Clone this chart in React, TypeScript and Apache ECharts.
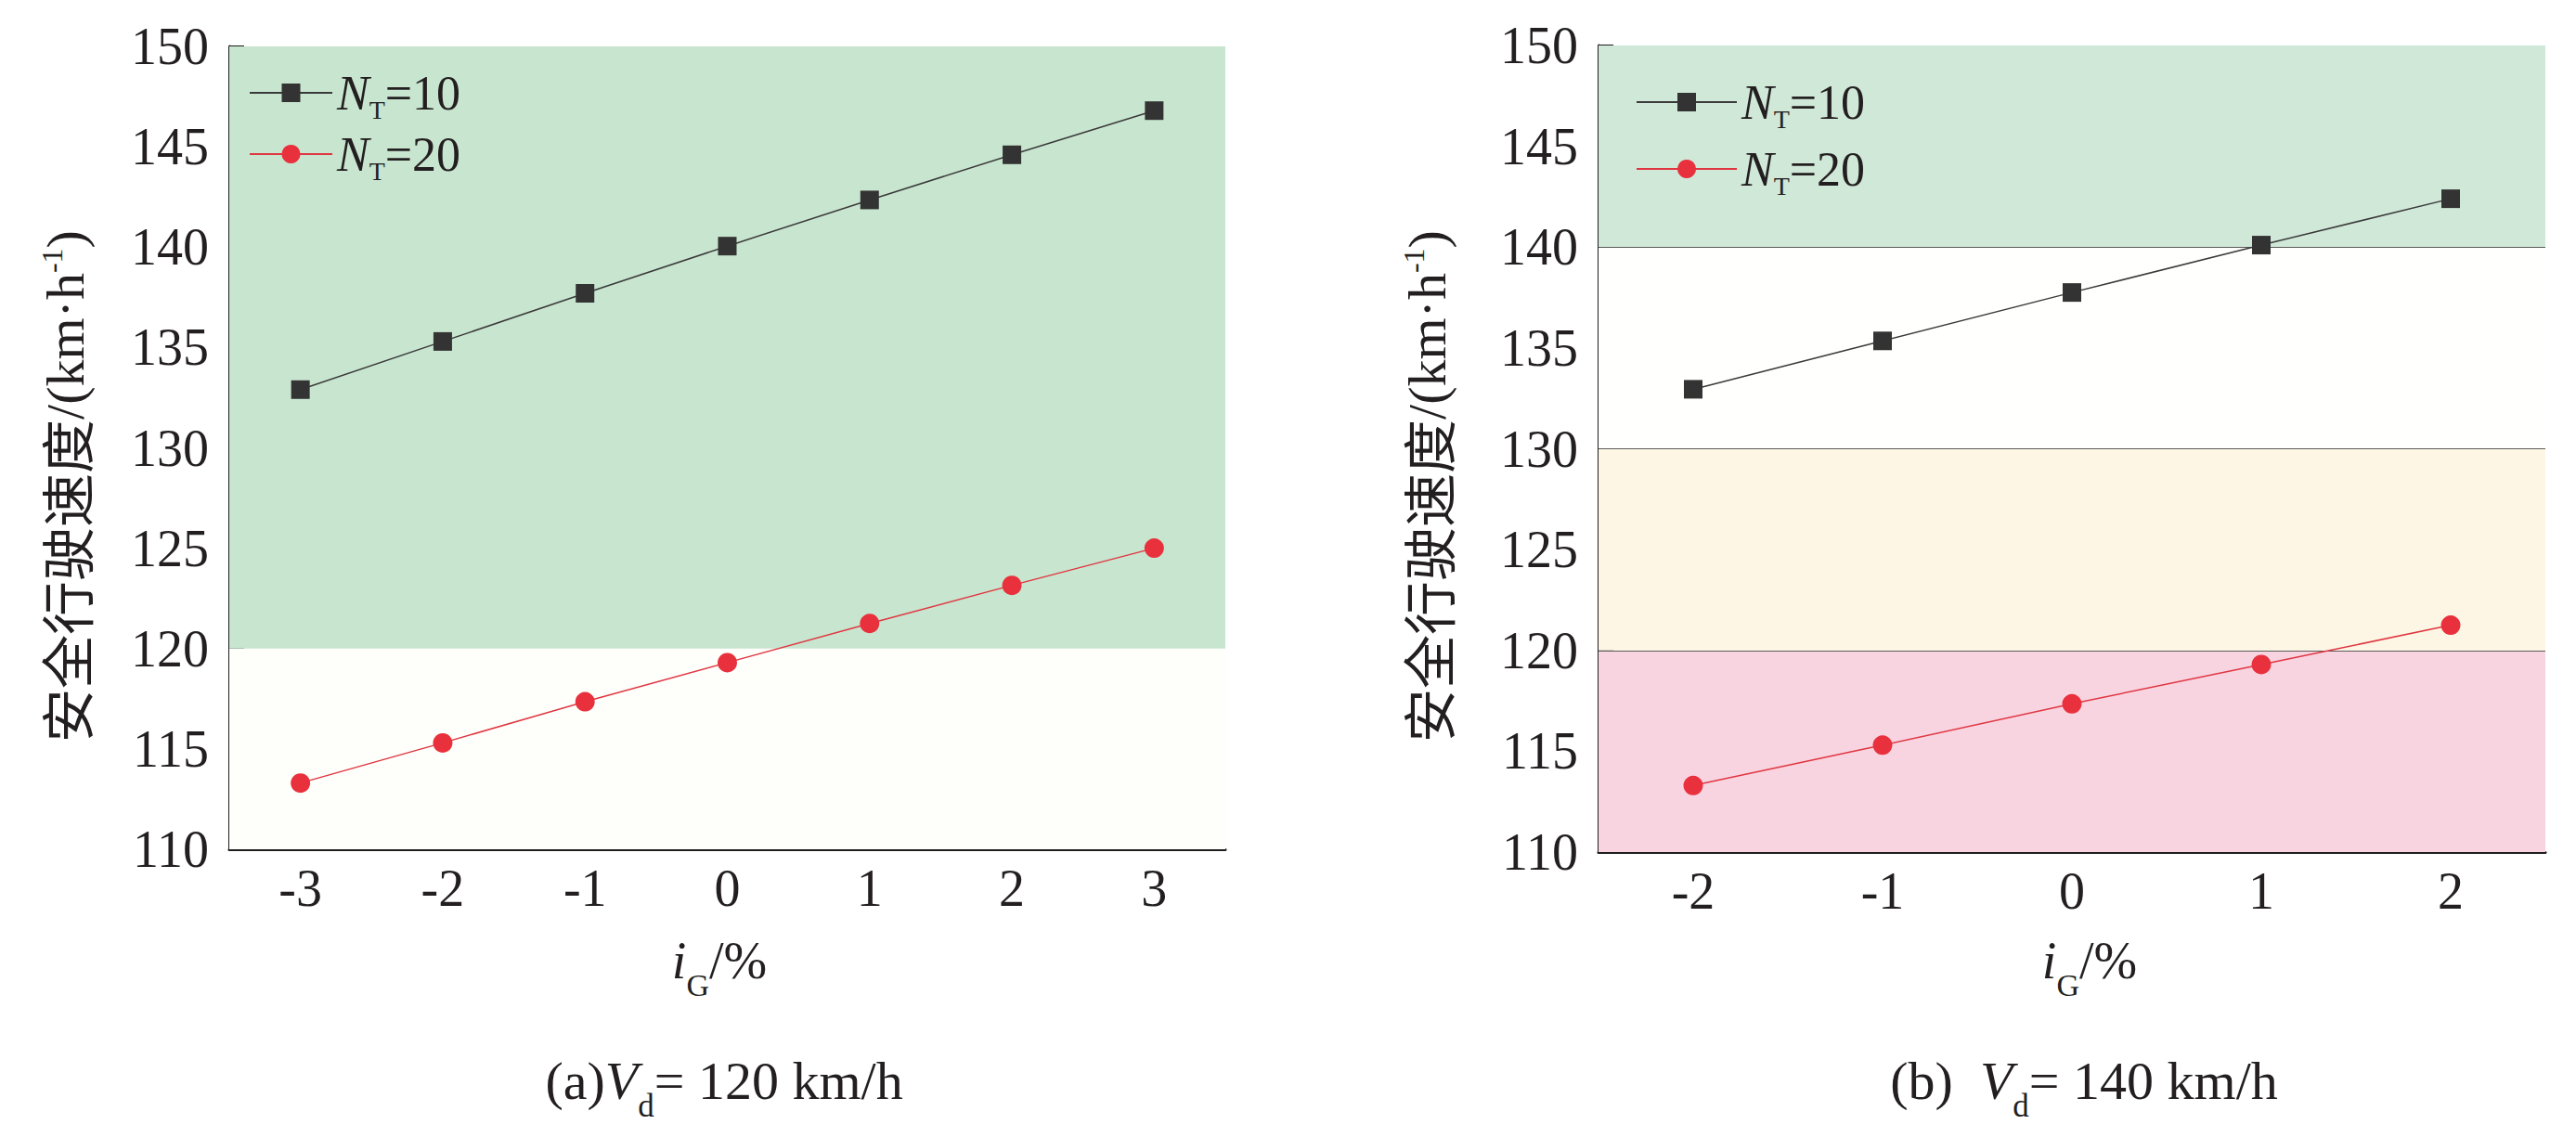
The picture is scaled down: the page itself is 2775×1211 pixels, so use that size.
import React, { useEffect, useRef } from "react";
import * as echarts from "echarts";

// ---------- data ----------
const X_A = ["-3", "-2", "-1", "0", "1", "2", "3"];
const A_NT10 = [132.9, 135.3, 137.7, 140.05, 142.35, 144.6, 146.8];
const A_NT20 = [113.3, 115.3, 117.35, 119.3, 121.25, 123.15, 125.0];

const X_B = ["-2", "-1", "0", "1", "2"];
const B_NT10 = [132.95, 135.35, 137.75, 140.1, 142.4];
const B_NT20 = [113.3, 115.3, 117.35, 119.3, 121.25];

const Y_MIN = 110;
const Y_MAX = 150;
const Y_STEP = 5;

const A_BAND_EDGES = [110, 120, 150];
const B_BAND_EDGES = [110, 120, 130, 140, 150];
const B_LINES = [140, 130, 120];

const SERIES_NAMES = ["NT=10", "NT=20"];
const LEGEND_TEXT = ["{i|N}{sub|T}{n|=10}", "{i|N}{sub|T}{n|=20}"];
const Y_NAME = "{c|安全行驶速度}{n|/(km·h}{sup|-1}{n|)}";
const X_NAME = "{i|i}{sub|G}{n|/%}";
const CAP_A = "{n|(a)}{i|V}{sub|d}{n|= 120 km/h}";
const CAP_B = "{n|(b)  }{i|V}{sub|d}{n|= 140 km/h}";

// ---------- styles ----------
const SERIF = "'Liberation Serif', 'Times New Roman', serif";
const CJK = "'Noto Sans CJK SC', 'Noto Sans CJK JP', sans-serif";
const INK = "#231f20";
const AXIS = "#1e1e1e";
const A_BAND_COLORS = ["#fefefa", "#c8e5cf"];
const B_BAND_COLORS = ["#f8d4e1", "#fdf6e4", "#fffffd", "#d0e8d8"];

function richSet(fs: number, subFs: number, subShift: number) {
  return {
    n: { fontSize: fs, fontFamily: SERIF, lineHeight: fs, fill: INK, color: INK },
    i: { fontSize: fs, fontFamily: SERIF, fontStyle: "italic", lineHeight: fs, fill: INK, color: INK },
    c: { fontSize: fs, fontFamily: CJK, lineHeight: fs, fill: INK, color: INK },
    sub: {
      fontSize: subFs,
      fontFamily: SERIF,
      lineHeight: 2,
      padding: [Math.round(subShift * 2), 0, 0, 0],
      fill: INK,
      color: INK,
    },
    sup: {
      fontSize: Math.round(fs * 0.55),
      fontFamily: SERIF,
      lineHeight: 2,
      padding: [0, 0, Math.round(fs * 0.48), 0],
      fill: INK,
      color: INK,
    },
  };
}

function bands(edges: number[], colors: string[]) {
  const out: any[] = [];
  for (let k = 0; k < edges.length - 1; k++) {
    out.push([{ yAxis: edges[k], itemStyle: { color: colors[k] } }, { yAxis: edges[k + 1] }]);
  }
  return out;
}

function xAxisCfg(gridIndex: number, data: string[]) {
  return {
    type: "category",
    gridIndex,
    data,
    boundaryGap: true,
    axisLine: { show: true, lineStyle: { color: AXIS, width: 3 } },
    axisTick: { show: true, inside: true, alignWithLabel: true, length: 17, lineStyle: { color: AXIS, width: 3 } },
    axisLabel: { interval: 0, fontSize: 56, fontFamily: SERIF, color: INK, margin: 14 },
    splitLine: { show: false },
  };
}

function yAxisCfg(gridIndex: number) {
  return {
    type: "value",
    gridIndex,
    min: Y_MIN,
    max: Y_MAX,
    interval: Y_STEP,
    axisLine: { show: true, lineStyle: { color: AXIS, width: 3 } },
    axisTick: { show: true, inside: true, length: 16, lineStyle: { color: AXIS, width: 3 } },
    axisLabel: { fontSize: 56, fontFamily: SERIF, color: INK, margin: 22 },
    splitLine: { show: false },
  };
}

function dataSeries(idx: number, n10: number[], n20: number[]) {
  return [
    {
      type: "line",
      name: SERIES_NAMES[0],
      xAxisIndex: idx,
      yAxisIndex: idx,
      data: n10,
      symbol: "rect",
      symbolSize: 20,
      z: 5,
      lineStyle: { color: "#3a3a3a", width: 1.5 },
      itemStyle: { color: "#333333" },
    },
    {
      type: "line",
      name: SERIES_NAMES[1],
      xAxisIndex: idx,
      yAxisIndex: idx,
      data: n20,
      symbol: "circle",
      symbolSize: 21,
      z: 5,
      lineStyle: { color: "#e03641", width: 1.5 },
      itemStyle: { color: "#e8313c" },
    },
  ];
}

function legendCfg(left: number, top: number, itemWidth: number, gap: number) {
  return {
    orient: "vertical",
    left,
    top,
    padding: 0,
    itemWidth,
    itemHeight: 25,
    itemGap: gap,
    selectedMode: false,
    data: SERIES_NAMES,
    formatter: (name: string) => LEGEND_TEXT[SERIES_NAMES.indexOf(name)],
    textStyle: { color: INK, fontFamily: SERIF, fontSize: 52, rich: richSet(52, 28, 18) },
  };
}

export default function App() {
  const ref = useRef<HTMLDivElement>(null);
  useEffect(() => {
    document.body.style.margin = "0";
    const chart = echarts.init(ref.current!, undefined, { renderer: "svg" });
    const bigRich = richSet(58, 35, 27);
    const midRich = richSet(56, 34, 26);
    const option: any = {
      animation: false,
      backgroundColor: "#ffffff",
      grid: [
        { left: 247, top: 50, width: 1073, height: 865 },
        { left: 1722, top: 49, width: 1020, height: 869 },
      ],
      xAxis: [xAxisCfg(0, X_A), xAxisCfg(1, X_B)],
      yAxis: [yAxisCfg(0), yAxisCfg(1)],
      legend: [legendCfg(268, 68, 89, 2), legendCfg(1762, 78, 108, 8)],
      series: [
        {
          type: "line",
          name: "bandA",
          xAxisIndex: 0,
          yAxisIndex: 0,
          data: [],
          z: 1,
          silent: true,
          markArea: { silent: true, data: bands(A_BAND_EDGES, A_BAND_COLORS) },
        },
        {
          type: "line",
          name: "bandB",
          xAxisIndex: 1,
          yAxisIndex: 1,
          data: [],
          z: 1,
          silent: true,
          markArea: { silent: true, data: bands(B_BAND_EDGES, B_BAND_COLORS) },
          markLine: {
            silent: true,
            symbol: ["none", "none"],
            label: { show: false },
            lineStyle: { color: "#5a5a5a", width: 1.2, type: "solid" },
            data: B_LINES.map((v) => ({ yAxis: v })),
          },
        },
        ...dataSeries(0, A_NT10, A_NT20),
        ...dataSeries(1, B_NT10, B_NT20),
      ],
      graphic: [
        { type: "text", x: 70, y: 524, rotation: Math.PI / 2, style: { text: Y_NAME, rich: bigRich, align: "center", verticalAlign: "middle" } },
        { type: "text", x: 1537, y: 524, rotation: Math.PI / 2, style: { text: Y_NAME, rich: bigRich, align: "center", verticalAlign: "middle" } },
        { type: "text", x: 775, y: 1035, style: { text: X_NAME, rich: midRich, align: "center", verticalAlign: "middle" } },
        { type: "text", x: 2251, y: 1035, style: { text: X_NAME, rich: midRich, align: "center", verticalAlign: "middle" } },
        { type: "text", x: 780, y: 1164, style: { text: CAP_A, rich: bigRich, align: "center", verticalAlign: "middle" } },
        { type: "text", x: 2245, y: 1164, style: { text: CAP_B, rich: bigRich, align: "center", verticalAlign: "middle" } },
      ],
    };
    chart.setOption(option);
    return () => chart.dispose();
  }, []);
  return <div ref={ref} style={{ width: 2775, height: 1211, background: "#fff" }} />;
}
